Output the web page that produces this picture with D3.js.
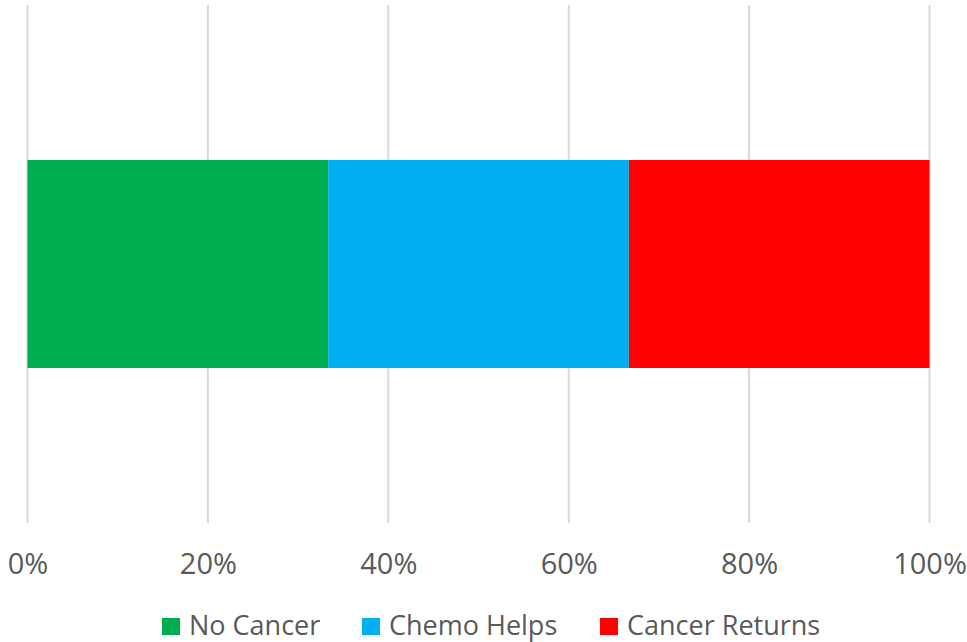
<!DOCTYPE html>
<html><head><meta charset="utf-8">
<script src="https://cdn.jsdelivr.net/npm/d3@7"></script>
<style>body{margin:0;background:#fff}svg{display:block}text{font-family:"Open Sans",sans-serif;fill:#595959}</style>
</head><body><svg id="c" width="967" height="642"></svg>
<script>
const categories = ["Outcome"];
const seriesNames = ["No Cancer", "Chemo Helps", "Cancer Returns"];
const seriesValues = [1, 1, 1];
const seriesColors = ["#00AD4E", "#00B0F0", "#FF0000"];
const tickValues = [0, 0.2, 0.4, 0.6, 0.8, 1.0];

const svg = d3.select("#c");
const x = d3.scaleLinear().domain([0, 1]).range([27.5, 929.5]);
const y = d3.scaleBand().domain(categories).range([5, 523]).paddingInner(0).paddingOuter(0.3);

// gridlines
svg.append("g").selectAll("line").data(tickValues).join("line")
  .attr("x1", d => x(d)).attr("x2", d => x(d))
  .attr("y1", 5).attr("y2", 523)
  .attr("stroke", "#d9d9d9").attr("stroke-width", 2);

// stacked 100% data
const total = d3.sum(seriesValues);
let cum = 0;
const segs = seriesValues.map((v, i) => { const s = {x0: cum / total, x1: (cum + v) / total, c: seriesColors[i]}; cum += v; return s; });

svg.append("g").selectAll("rect").data(segs).join("rect")
  .attr("x", d => x(d.x0)).attr("width", d => x(d.x1) - x(d.x0))
  .attr("y", 160).attr("height", 208)
  .attr("fill", d => d.c);

// axis
const axis = d3.axisBottom(x).tickValues(tickValues).tickFormat(d3.format(".0%")).tickSize(0).tickPadding(0);
const ag = svg.append("g").attr("transform", "translate(0,553)").call(axis);
ag.select(".domain").remove();
ag.selectAll("text").attr("dy", null).attr("y", 21).style("font-size", "29px").style("font-family", "'Open Sans',sans-serif").attr("fill", "#595959");

// legend
const legX = [162, 362, 600];
const lg = svg.append("g").selectAll("g").data(seriesNames).join("g")
  .attr("transform", (d, i) => `translate(${legX[i]},0)`);
lg.append("rect").attr("x", 0).attr("y", 618).attr("width", 18).attr("height", 17).attr("fill", (d, i) => seriesColors[i]);
lg.append("text").attr("x", 27).attr("y", 635).style("font-size", "27px").text(d => d);
</script></body></html>
